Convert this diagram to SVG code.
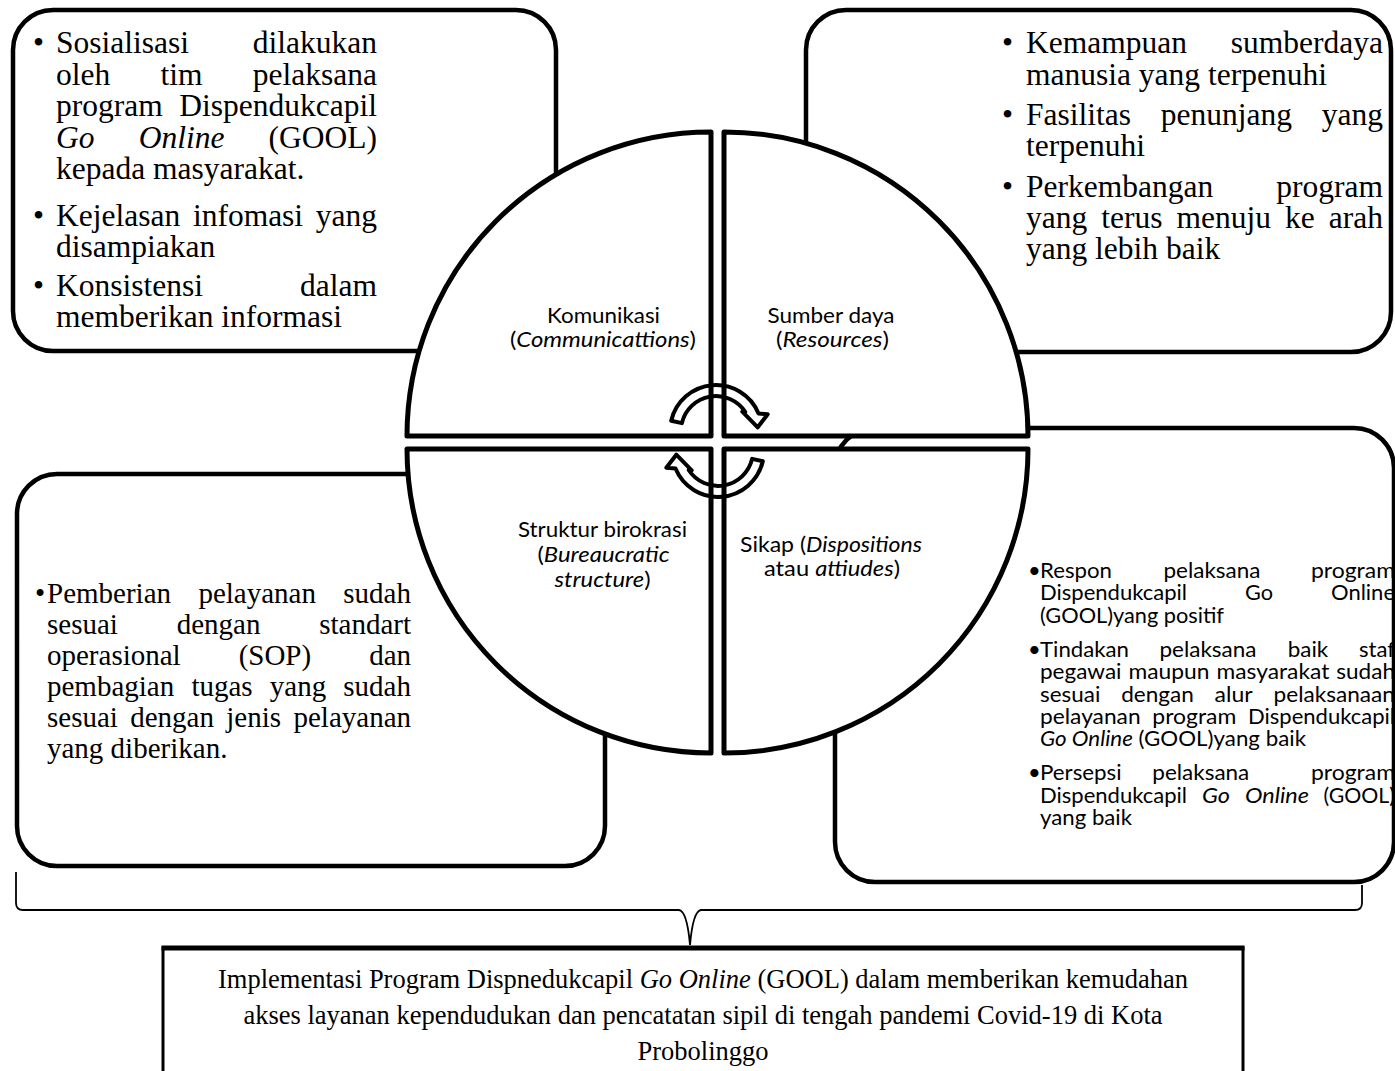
<svg xmlns="http://www.w3.org/2000/svg" width="1395" height="1071" viewBox="0 0 1395 1071">
<style>
.box{fill:#fff;stroke:#000;stroke-width:4.5}
.q{fill:#fff;stroke:#000;stroke-width:5;stroke-linejoin:round}
.arr{fill:none;stroke:#000;stroke-width:4;stroke-linejoin:round}
.brace{fill:none;stroke:#000;stroke-width:1.8}
.s{font-family:"Liberation Serif","Times New Roman",serif;font-size:31.5px;fill:#000}
.s29{font-size:29px}
.s26{font-family:"Liberation Serif","Times New Roman",serif;font-size:26.5px;fill:#000}
.c{font-family:Lato,"Liberation Sans",sans-serif;font-size:22px;fill:#000}
.i{font-style:italic}
.e{text-anchor:end}
.m{text-anchor:middle}
</style>
<rect width="1395" height="1071" fill="#fff"/>

<g id="box-communication">
<rect class="box" x="13" y="10" width="543" height="341" rx="40"/>
<g class="s">
<text x="33" y="53">•</text><text x="56" y="53">Sosialisasi</text><text class="e" x="377" y="53">dilakukan</text>
<text x="56" y="85">oleh</text><text class="m" x="181.5" y="85">tim</text><text class="e" x="377" y="85">pelaksana</text>
<text x="56" y="116">program</text><text class="e" x="377" y="116">Dispendukcapil</text>
<text class="i" x="56" y="148">Go</text><text class="i" x="138.7" y="148">Online</text><text class="e" x="377" y="148">(GOOL)</text>
<text x="56" y="179">kepada masyarakat.</text>
<text x="33" y="226">•</text><text x="56" y="226">Kejelasan</text><text x="192.9" y="226">infomasi</text><text class="e" x="377" y="226">yang</text>
<text x="56" y="257">disampiakan</text>
<text x="33" y="296">•</text><text x="56" y="296">Konsistensi</text><text class="e" x="377" y="296">dalam</text>
<text x="56" y="327">memberikan informasi</text>
</g>
</g>

<g id="box-resources">
<rect class="box" x="806" y="10" width="585" height="342" rx="40"/>
<g class="s">
<text x="1002" y="53">•</text><text x="1026" y="53">Kemampuan</text><text class="e" x="1383" y="53">sumberdaya</text>
<text x="1026" y="85">manusia yang terpenuhi</text>
<text x="1002" y="125">•</text><text x="1026" y="125">Fasilitas</text><text class="m" x="1226.4" y="125">penunjang</text><text class="e" x="1383" y="125">yang</text>
<text x="1026" y="156">terpenuhi</text>
<text x="1002" y="197">•</text><text x="1026" y="197">Perkembangan</text><text class="e" x="1383" y="197">program</text>
<text x="1026" y="228">yang</text><text x="1101.3" y="228">terus</text><text x="1176.5" y="228">menuju</text><text x="1285" y="228">ke</text><text class="e" x="1383" y="228">arah</text>
<text x="1026" y="259">yang lebih baik</text>
</g>
</g>

<g id="box-structure">
<rect class="box" x="17" y="474" width="588" height="392" rx="40"/>
<g class="s s29">
<text x="35" y="603">•</text><text x="47" y="603">Pemberian</text><text class="m" x="257.2" y="603">pelayanan</text><text class="e" x="411" y="603">sudah</text>
<text x="47" y="634">sesuai</text><text class="m" x="218.6" y="634">dengan</text><text class="e" x="411" y="634">standart</text>
<text x="47" y="665">operasional</text><text class="m" x="274.9" y="665">(SOP)</text><text class="e" x="411" y="665">dan</text>
<text x="47" y="696">pembagian</text><text x="191.4" y="696">tugas</text><text x="269.8" y="696">yang</text><text class="e" x="411" y="696">sudah</text>
<text x="47" y="727">sesuai</text><text x="130.2" y="727">dengan</text><text x="226.3" y="727">jenis</text><text class="e" x="411" y="727">pelayanan</text>
<text x="47" y="758">yang diberikan.</text>
</g>
</g>

<g id="box-dispositions">
<rect class="box" x="835" y="428" width="559" height="454" rx="40"/>
<g class="c">
<text x="1028" y="578">•</text><text x="1040" y="578" textLength="72" lengthAdjust="spacingAndGlyphs">Respon</text><text class="m" x="1212" y="578" textLength="97" lengthAdjust="spacingAndGlyphs">pelaksana</text><text class="e" x="1395" y="578" textLength="84" lengthAdjust="spacingAndGlyphs">program</text>
<text x="1040" y="600" textLength="147" lengthAdjust="spacingAndGlyphs">Dispendukcapil</text><text x="1245" y="600" textLength="28" lengthAdjust="spacingAndGlyphs">Go</text><text class="e" x="1395" y="600" textLength="64" lengthAdjust="spacingAndGlyphs">Online</text>
<text x="1040" y="623" textLength="184" lengthAdjust="spacingAndGlyphs">(GOOL)yang positif</text>
<text x="1028" y="657">•</text><text x="1040" y="657" textLength="89" lengthAdjust="spacingAndGlyphs">Tindakan</text><text x="1159.5" y="657" textLength="97" lengthAdjust="spacingAndGlyphs">pelaksana</text><text x="1287.7" y="657" textLength="40.5" lengthAdjust="spacingAndGlyphs">baik</text><text class="e" x="1395" y="657" textLength="36" lengthAdjust="spacingAndGlyphs">staf</text>
<text x="1040" y="679" textLength="81.5" lengthAdjust="spacingAndGlyphs">pegawai</text><text x="1128.5" y="679" textLength="81" lengthAdjust="spacingAndGlyphs">maupun</text><text x="1216.5" y="679" textLength="112.8" lengthAdjust="spacingAndGlyphs">masyarakat</text><text class="e" x="1395" y="679" textLength="58.7" lengthAdjust="spacingAndGlyphs">sudah</text>
<text x="1040" y="702" textLength="60.3" lengthAdjust="spacingAndGlyphs">sesuai</text><text x="1121.2" y="702" textLength="72.6" lengthAdjust="spacingAndGlyphs">dengan</text><text x="1214.6" y="702" textLength="38" lengthAdjust="spacingAndGlyphs">alur</text><text class="e" x="1395" y="702" textLength="121.5" lengthAdjust="spacingAndGlyphs">pelaksanaan</text>
<text x="1040" y="724" textLength="100.6" lengthAdjust="spacingAndGlyphs">pelayanan</text><text x="1152.3" y="724" textLength="84" lengthAdjust="spacingAndGlyphs">program</text><text class="e" x="1395" y="724" textLength="147" lengthAdjust="spacingAndGlyphs">Dispendukcapil</text>
<text x="1040" y="746" textLength="266" lengthAdjust="spacingAndGlyphs"><tspan class="i">Go Online</tspan> (GOOL)yang baik</text>
<text x="1028" y="780">•</text><text x="1040" y="780" textLength="81.6" lengthAdjust="spacingAndGlyphs">Persepsi</text><text x="1152.3" y="780" textLength="97" lengthAdjust="spacingAndGlyphs">pelaksana</text><text class="e" x="1395" y="780" textLength="84" lengthAdjust="spacingAndGlyphs">program</text>
<text x="1040" y="803" textLength="147" lengthAdjust="spacingAndGlyphs">Dispendukcapil</text><text class="i" x="1202" y="803" textLength="28" lengthAdjust="spacingAndGlyphs">Go</text><text class="i" x="1245" y="803" textLength="64" lengthAdjust="spacingAndGlyphs">Online</text><text class="e" x="1395" y="803" textLength="71.5" lengthAdjust="spacingAndGlyphs">(GOOL)</text>
<text x="1040" y="825" textLength="92" lengthAdjust="spacingAndGlyphs">yang baik</text>
</g>
</g>

<g id="quadrant-komunikasi">
<path class="q" d="M711 436 L407 436 A304 304 0 0 1 711 132 Z"/>
<text class="c m" x="603.5" y="323" textLength="113" lengthAdjust="spacingAndGlyphs">Komunikasi</text>
<text class="c m" x="603" y="347" textLength="186" lengthAdjust="spacingAndGlyphs">(<tspan class="i">Communicattions</tspan>)</text>
</g>
<g id="quadrant-sumberdaya">
<path class="q" d="M724 436 L724 132 A304 304 0 0 1 1028 436 Z"/>
<text class="c m" x="831" y="323" textLength="127" lengthAdjust="spacingAndGlyphs">Sumber daya</text>
<text class="c m" x="832.5" y="347" textLength="113" lengthAdjust="spacingAndGlyphs">(<tspan class="i">Resources</tspan>)</text>
</g>
<g id="quadrant-struktur">
<path class="q" d="M711 449 L711 753 A304 304 0 0 1 407 449 Z"/>
<text class="c m" x="602.5" y="537" textLength="169" lengthAdjust="spacingAndGlyphs">Struktur birokrasi</text>
<text class="c m" x="603.5" y="562" textLength="132" lengthAdjust="spacingAndGlyphs">(<tspan class="i">Bureaucratic</tspan></text>
<text class="c m" x="602.5" y="587" textLength="96" lengthAdjust="spacingAndGlyphs"><tspan class="i">structure</tspan>)</text>
</g>
<g id="quadrant-sikap">
<path class="q" d="M724 449 L1028 449 A304 304 0 0 1 724 753 Z"/>
<text class="c m" x="831" y="552" textLength="182" lengthAdjust="spacingAndGlyphs">Sikap (<tspan class="i">Dispositions</tspan></text>
<text class="c m" x="832" y="576" textLength="136" lengthAdjust="spacingAndGlyphs">atau <tspan class="i">attiudes</tspan>)</text>
</g>

<g id="connectors">
<path id="cycle-arrow-top" class="arr" d="M671.2 420.7 A46 46 0 0 1 758.5 413.4 L767.7 414.3 L757.7 427.3 L742.3 411.7 L745.3 412 A35 35 0 0 0 681.9 423.1 Z"/>
<path id="cycle-arrow-bottom" class="arr" transform="rotate(180 717 441)" d="M671.2 420.7 A46 46 0 0 1 758.5 413.4 L767.7 414.3 L757.7 427.3 L742.3 411.7 L745.3 412 A35 35 0 0 0 681.9 423.1 Z"/>
<path id="brace" class="brace" d="M16 872 L16 903 Q16 910 23 910 L679 910 Q687 911 690 945 Q693 911 701 910 L1355 910 Q1362 910 1362 903 L1362 885"/>
</g>

<g id="box-result">
<rect x="163" y="948" width="1080" height="140" fill="#fff" stroke="#000" stroke-width="3"/>
<line x1="161.5" y1="948" x2="1244.5" y2="948" stroke="#000" stroke-width="5"/>
<text class="s26 m" x="703" y="988">Implementasi Program Dispnedukcapil <tspan class="i">Go Online</tspan> (GOOL) dalam memberikan kemudahan</text>
<text class="s26 m" x="703" y="1024">akses layanan kependudukan dan pencatatan sipil di tengah pandemi Covid-19 di Kota</text>
<text class="s26 m" x="703" y="1060">Probolinggo</text>
</g>
</svg>
